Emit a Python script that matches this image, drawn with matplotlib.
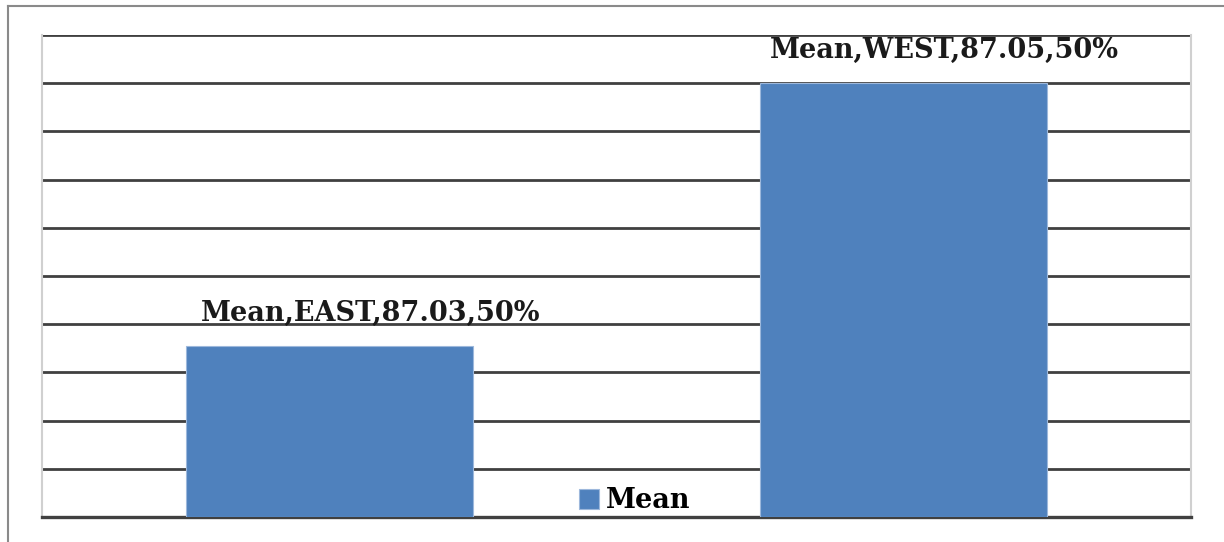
import matplotlib.pyplot as plt
from matplotlib.lines import Line2D
from matplotlib.font_manager import FontProperties

# data
categories = ['EAST', 'WEST']
means = [87.0292, 87.051]
shares = ['50%', '50%']
series_name = 'Mean'

bar_color = '#4F81BD'
grid_color = '#404040'

label_font = FontProperties(family='DejaVu Serif', weight='bold', size=19.5)

fig = plt.figure(figsize=(12.24, 5.42), dpi=100)
ax = fig.add_axes([42 / 1224, 25 / 542, 1149 / 1224, 482 / 542])

x = list(range(len(categories)))
ymin, ymax, step = 87.015, 87.055, 0.004
ax.bar(x, [m - ymin for m in means], bottom=ymin, width=0.5,
       color=bar_color, edgecolor='#9db8dc', linewidth=0.8,
       label=series_name, zorder=3)

ax.set_xlim(-0.5, len(categories) - 0.5)
ax.set_ylim(ymin, ymax)
ticks = [ymin + i * step for i in range(11)]
ax.set_yticks(ticks)
ax.yaxis.grid(True, color=grid_color, linewidth=2.0, zorder=1)
ax.set_axisbelow(True)
ax.tick_params(left=False, bottom=False, labelleft=False, labelbottom=False)

for side in ['left', 'right']:
    ax.spines[side].set_color('#d0d0d0')
    ax.spines[side].set_linewidth(1.5)
ax.spines['top'].set_visible(False)
ax.spines['bottom'].set_color(grid_color)
ax.spines['bottom'].set_linewidth(2.4)

# data labels
for xi, cat, m, s in zip(x, categories, means, shares):
    ax.annotate(f'{series_name},{cat},{m:.2f},{s}', xy=(xi, m),
                xytext=(41, 25), textcoords='offset pixels',
                ha='center', va='baseline', fontproperties=label_font,
                color='#1a1a1a', zorder=4)

leg = ax.legend(loc='lower center', bbox_to_anchor=(0.516, -0.045), frameon=False,
                prop=label_font, handlelength=0.75, handleheight=0.75,
                handletextpad=0.25)

# outer chart frame
fig.add_artist(Line2D([8 / 1224, 8 / 1224], [0, 1 - 6 / 542],
                      color='#8a8a8a', linewidth=1.5))
fig.add_artist(Line2D([8 / 1224, 1], [1 - 6 / 542, 1 - 6 / 542],
                      color='#8a8a8a', linewidth=1.5))

fig.savefig('out.png', dpi=100)
